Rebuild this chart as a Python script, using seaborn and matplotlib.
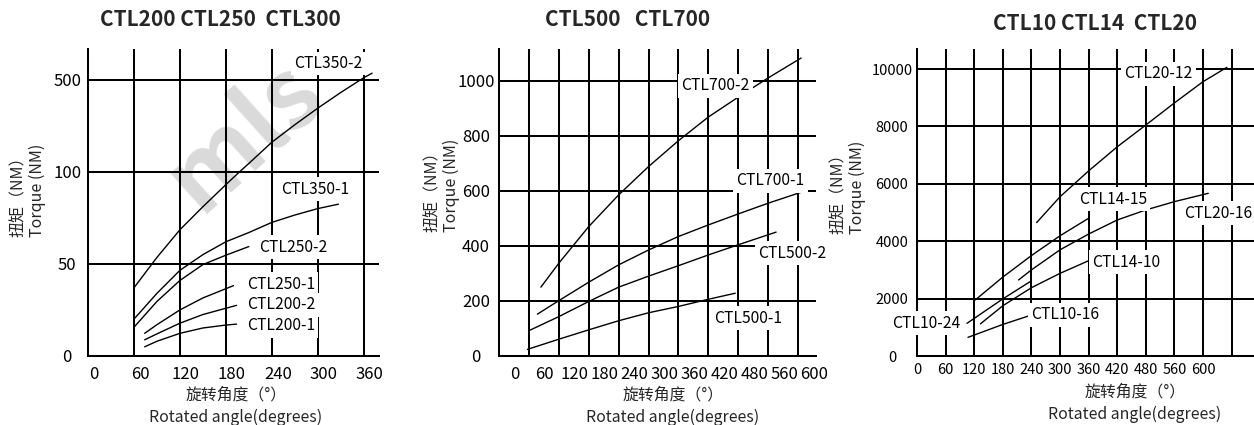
import numpy as np
import matplotlib
matplotlib.use("Agg")
import matplotlib.pyplot as plt
import matplotlib.transforms as mtransforms
import seaborn as sns

# ---- 数据 ----
# CTL200 / CTL250 / CTL300
ctl350_2_deg = [60, 90, 120, 150, 180, 198, 210, 240, 270, 300, 330, 360, 371]
ctl350_2_nm = [37, 53.5, 68.5, 81, 93, 100, 136, 228, 304, 376, 444, 508, 528]
ctl350_1_deg = [60, 90, 120, 150, 180, 210, 240, 270, 300, 327]
ctl350_1_nm = [20, 34, 46.5, 55, 62, 67, 72.5, 76.5, 80, 82.4]
ctl250_2_deg = [60, 90, 120, 150, 180, 210]
ctl250_2_nm = [15.6, 29.6, 41, 49.6, 54.7, 59.4]
ctl250_1_deg = [74, 90, 120, 150, 190]
ctl250_1_nm = [12.3, 17, 25, 31.5, 38.2]
ctl200_2_deg = [74, 90, 120, 150, 194]
ctl200_2_nm = [8.8, 12, 17.8, 22.5, 27.5]
ctl200_1_deg = [74, 90, 120, 150, 180, 194]
ctl200_1_nm = [5, 8, 12.3, 15.2, 16.8, 17.3]

# CTL500 / CTL700
ctl700_2_deg = [84, 120, 180, 240, 300, 360, 420, 484, 540, 606]
ctl700_2_nm = [250, 337, 470, 585, 688, 782, 868, 945, 1010, 1082]
ctl700_1_deg = [77, 120, 180, 240, 300, 360, 420, 480, 540, 615]
ctl700_1_nm = [152, 201, 268, 331, 385, 434, 476, 516, 555, 600]
ctl500_2_deg = [60, 120, 180, 240, 300, 360, 420, 480, 556]
ctl500_2_nm = [92, 143, 198, 250, 290, 328, 367, 404, 450]
ctl500_1_deg = [57, 120, 180, 240, 300, 360, 420, 474]
ctl500_1_nm = [24, 61, 95, 128, 157, 180, 206, 228]

# CTL10 / CTL14 / CTL20
ctl20_12_deg = [251, 300, 360, 420, 480, 540, 600, 650]
ctl20_12_nm = [4650, 5550, 6450, 7290, 8050, 8820, 9560, 10060]
ctl20_16_deg = [213, 240, 300, 360, 420, 480, 540, 611]
ctl20_16_nm = [2650, 3000, 3700, 4250, 4740, 5090, 5380, 5670]
ctl14_15_deg = [122, 180, 240, 300, 360]
ctl14_15_nm = [1950, 2750, 3500, 4190, 4800]
ctl14_10_deg = [133, 180, 240, 300, 360]
ctl14_10_nm = [1120, 1750, 2380, 2880, 3320]
ctl10_24_deg = [105, 180, 240]
ctl10_24_nm = [1140, 1990, 2620]
ctl10_16_deg = [107, 180, 234]
ctl10_16_nm = [650, 1100, 1395]

# 刻度
P1_XTICKS = [0, 60, 120, 180, 240, 300, 360]
P1_YTICKS = [0, 50, 100, 500]
P2_XTICKS = [0, 60, 120, 180, 240, 300, 360, 420, 480, 540, 600]
P2_XLABELS = ['0', '60', '120', '180', '240', '300', '360', '420', '480', '560', '600']
P2_YTICKS = [0, 200, 400, 600, 800, 1000]
P3_XTICKS = [0, 60, 120, 180, 240, 300, 360, 420, 480, 540, 600, 660]
P3_XLABELS = ['0', '60', '120', '180', '240', '300', '360', '420', '480', '560', '600', '']
P3_YTICKS = [0, 2000, 4000, 6000, 8000, 10000]

TITLES = ['CTL200 CTL250  CTL300', 'CTL500   CTL700', 'CTL10 CTL14  CTL20']
YLABEL = '扭矩（NM）\nTorque (NM)'
XLABEL = '旋转角度（°）\nRotated angle(degrees)'

sns.set_theme(style='white')
plt.rcParams['font.family'] = ['Noto Sans CJK SC', 'DejaVu Sans']

W, H = 1254, 425
fig = plt.figure(figsize=(W / 100, H / 100), dpi=100)


def px_axes(left, right, top, bottom):
    return fig.add_axes([left / W, (H - bottom) / H, (right - left) / W, (bottom - top) / H])


ax1 = px_axes(88, 379, 49, 356)
ax2 = px_axes(499, 816, 49, 356)
ax3 = px_axes(917, 1254, 49, 356)

GRID_LW = 1.45
CURVE_LW = 1.0


def style_axes(ax, xticks, xlabels, yticks, tick_fs, xpad, ypad, xshift):
    ax.set_xticks(xticks)
    ax.set_xticklabels(xlabels, fontsize=tick_fs, fontweight='medium')
    ax.set_yticks(yticks)
    ax.set_yticklabels([str(v) for v in yticks], fontsize=tick_fs, fontweight='medium')
    ax.grid(True, color='black', linewidth=GRID_LW)
    ax.set_axisbelow(True)
    for side in ['top', 'right']:
        ax.spines[side].set_visible(False)
    for side in ['left', 'bottom']:
        ax.spines[side].set_color('black')
        ax.spines[side].set_linewidth(GRID_LW)
    ax.tick_params(axis='x', length=0, pad=xpad, colors='black')
    ax.tick_params(axis='y', length=0, pad=ypad, colors='black')
    for lab in ax.get_yticklabels():
        lab.set_horizontalalignment('center')
    off = mtransforms.ScaledTranslation(xshift / 100, 0, fig.dpi_scale_trans)
    for lab in ax.get_xticklabels():
        lab.set_transform(lab.get_transform() + off)
    ax.set_xlabel('')
    ax.set_ylabel('')


def curve(ax, x, y):
    sns.lineplot(x=x, y=y, ax=ax, color='black', linewidth=CURVE_LW, sort=True)


def tag(ax, x, y, s):
    ax.text(x, y, s, fontsize=11.3, ha='center', va='center', color='black', zorder=5,
            clip_on=False, bbox=dict(facecolor='white', edgecolor='none', pad=2.5))


# ---- 面板 1 ----
pos_nm = [0, 50, 100, 500, 900]
pos_idx = [0, 1, 2, 3, 4]


def fwd(v):
    return np.interp(v, pos_nm, pos_idx)


def inv(v):
    return np.interp(v, pos_idx, pos_nm)


ax1.set_yscale('function', functions=(fwd, inv))
for x, y in [(ctl350_2_deg, ctl350_2_nm), (ctl350_1_deg, ctl350_1_nm),
             (ctl250_2_deg, ctl250_2_nm), (ctl250_1_deg, ctl250_1_nm),
             (ctl200_2_deg, ctl200_2_nm), (ctl200_1_deg, ctl200_1_nm)]:
    curve(ax1, x, y)
ax1.set_xlim(0, 380)
ax1.set_ylim(0, 633)
style_axes(ax1, P1_XTICKS, [str(v) for v in P1_XTICKS], P1_YTICKS, 12, 7, 15, 6)
tag(ax1, 314, 570, 'CTL350-2')
tag(ax1, 297, 90.5, 'CTL350-1')
tag(ax1, 268, 59, 'CTL250-2')
tag(ax1, 252, 39, 'CTL250-1')
tag(ax1, 252, 27.8, 'CTL200-2')
tag(ax1, 252, 16.4, 'CTL200-1')
# 水印
ax1.text(0.54, 0.72, 'mls', transform=ax1.transAxes, fontsize=70, fontweight='bold',
         color='#dadada', rotation=42, ha='center', va='center', zorder=0.3, clip_on=False)

# ---- 面板 2 ----
for x, y in [(ctl700_2_deg, ctl700_2_nm), (ctl700_1_deg, ctl700_1_nm),
             (ctl500_2_deg, ctl500_2_nm), (ctl500_1_deg, ctl500_1_nm)]:
    curve(ax2, x, y)
ax2.set_xlim(0, 636)
ax2.set_ylim(0, 1115)
style_axes(ax2, P2_XTICKS, P2_XLABELS, P2_YTICKS, 12, 7, 16.5, 16)
tag(ax2, 434, 982, 'CTL700-2')
tag(ax2, 544, 637, 'CTL700-1')
tag(ax2, 588, 373, 'CTL500-2')
tag(ax2, 499, 137, 'CTL500-1')

# ---- 面板 3 ----
for x, y in [(ctl20_12_deg, ctl20_12_nm), (ctl20_16_deg, ctl20_16_nm),
             (ctl14_15_deg, ctl14_15_nm), (ctl14_10_deg, ctl14_10_nm),
             (ctl10_24_deg, ctl10_24_nm), (ctl10_16_deg, ctl10_16_nm)]:
    curve(ax3, x, y)
ax3.set_xlim(0, 707)
ax3.set_ylim(0, 10700)
style_axes(ax3, P3_XTICKS, P3_XLABELS, P3_YTICKS, 10.5, 5, 18, 0)
tag(ax3, 506, 9830, 'CTL20-12')
tag(ax3, 632, 4980, 'CTL20-16')
tag(ax3, 411, 5470, 'CTL14-15')
tag(ax3, 439, 3270, 'CTL14-10')
tag(ax3, 19.5, 1140, 'CTL10-24')
tag(ax3, 311, 1430, 'CTL10-16')

# ---- 标题和轴标题 ----
for cx, cy, t in [(220, 20, TITLES[0]), (628, 20, TITLES[1]), (1095, 24, TITLES[2])]:
    fig.text(cx / W, 1 - cy / H, t, fontsize=15, fontweight='bold', ha='center', va='center')
for cx, cy in [(28, 190), (442, 185), (848, 187)]:
    fig.text(cx / W, 1 - cy / H, YLABEL, fontsize=11.5, rotation=90, ha='center', va='center',
             multialignment='left', linespacing=1.2)
for cx, cy in [(236, 406), (673, 406), (1135, 403)]:
    fig.text(cx / W, 1 - cy / H, XLABEL, fontsize=11.4, ha='center', va='center',
             multialignment='center', linespacing=1.4)

fig.savefig('out.png', dpi=100)
